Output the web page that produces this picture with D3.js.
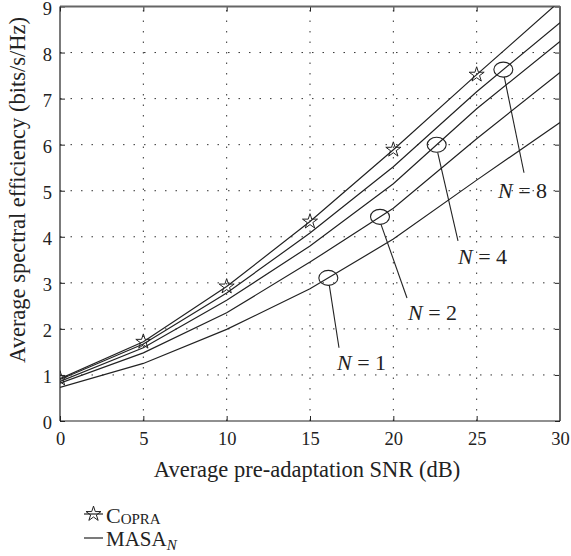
<!DOCTYPE html>
<html>
<head>
<meta charset="utf-8">
<script src="https://cdn.jsdelivr.net/npm/d3@7.9.0/dist/d3.min.js"></script>
<style>
  body { margin: 0; background: #fff; }
  svg { display: block; }
  text { font-family: "Liberation Serif", "Times New Roman", serif; fill: #222; }
</style>
</head>
<body>
<svg id="chart" width="571" height="556"></svg>
<script>
// values
const snr = [0, 5, 10, 15, 20, 25, 30];
const copra = [0.92, 1.72, 2.92, 4.33, 5.89, 7.52, 9.12];
const masa1 = [0.73, 1.25, 1.99, 2.87, 3.95, 5.23, 6.48];
const masa2 = [0.82, 1.48, 2.35, 3.45, 4.62, 6.13, 7.57];
const masa4 = [0.86, 1.59, 2.62, 3.8, 5.15, 6.78, 8.24];
const masa8 = [0.9, 1.67, 2.78, 4.08, 5.52, 7.15, 8.65];
const xTicks = [0, 5, 10, 15, 20, 25, 30];
const yTicks = [0, 1, 2, 3, 4, 5, 6, 7, 8, 9];

const masa = [
  { n: 1, values: masa1 },
  { n: 2, values: masa2 },
  { n: 4, values: masa4 },
  { n: 8, values: masa8 },
];

// ellipse position on each curve (SNR), leader end and label, in data units
const notes = [
  { n: 1, at: 16.1, endX: 16.74, endY: 1.59, textX: 16.62, textY: 1.11 },
  { n: 2, at: 19.2, endX: 20.82, endY: 2.67, textX: 20.88, textY: 2.2 },
  { n: 4, at: 22.6, endX: 23.88, endY: 3.91, textX: 23.88, textY: 3.41 },
  { n: 8, at: 26.6, endX: 27.84, endY: 5.39, textX: 26.28, textY: 4.85 },
];

const pLeft = 60, pRight = 560, pTop = 6.5, pBottom = 421;
const svg = d3.select('#chart');

const x = d3.scaleLinear().domain([0, 30]).range([pLeft, pRight]);
const y = d3.scaleLinear().domain([0, 9]).range([pBottom, pTop]);

svg.append('defs').append('clipPath').attr('id', 'plot')
  .append('rect')
  .attr('x', pLeft).attr('y', pTop)
  .attr('width', pRight - pLeft).attr('height', pBottom - pTop);

// dotted grid
const grid = svg.append('g').attr('stroke', '#333').attr('stroke-width', 1)
  .attr('stroke-dasharray', '1.5,9');
xTicks.slice(1, -1).forEach((t) => {
  grid.append('line').attr('x1', x(t)).attr('x2', x(t)).attr('y1', pBottom).attr('y2', pTop);
});
yTicks.slice(1, -1).forEach((t) => {
  grid.append('line').attr('y1', y(t)).attr('y2', y(t)).attr('x1', pLeft).attr('x2', pRight);
});

// axes with inward ticks
svg.append('g').attr('transform', `translate(0,${pBottom})`)
  .call(d3.axisBottom(x).tickValues(xTicks).tickSize(-5).tickSizeOuter(0).tickPadding(11));
const yAxis = svg.append('g').attr('transform', `translate(${pLeft},0)`)
  .call(d3.axisLeft(y).tickValues(yTicks).tickSize(-5).tickSizeOuter(0).tickPadding(8));
yAxis.selectAll('.tick text').attr('dy', '0.42em');
svg.append('g').attr('transform', `translate(0,${pTop})`)
  .call(d3.axisTop(x).tickValues(xTicks).tickSize(-5).tickSizeOuter(0).tickFormat(''));
svg.append('g').attr('transform', `translate(${pRight},0)`)
  .call(d3.axisRight(y).tickValues(yTicks).tickSize(-5).tickSizeOuter(0).tickFormat(''));
svg.selectAll('.domain').remove();
svg.selectAll('.tick line').attr('stroke', '#222');
svg.selectAll('.tick text')
  .style('font-family', '"Liberation Serif", serif')
  .style('font-size', '18.5px')
  .attr('fill', '#222');

// frame
svg.append('line').attr('x1', pLeft).attr('x2', pRight).attr('y1', pTop).attr('y2', pTop)
  .attr('stroke', '#666').attr('stroke-width', 2);
svg.append('line').attr('x1', pRight).attr('x2', pRight).attr('y1', pTop).attr('y2', pBottom)
  .attr('stroke', '#666').attr('stroke-width', 2);
svg.append('line').attr('x1', pLeft).attr('x2', pLeft).attr('y1', pTop).attr('y2', pBottom)
  .attr('stroke', '#222').attr('stroke-width', 1.2);
svg.append('line').attr('x1', pLeft).attr('x2', pRight).attr('y1', pBottom).attr('y2', pBottom)
  .attr('stroke', '#222').attr('stroke-width', 1.2);

// curves
const line = d3.line().x((d) => x(d[0])).y((d) => y(d[1]));
const plot = svg.append('g').attr('clip-path', 'url(#plot)');

masa.forEach((s) => {
  plot.append('path')
    .attr('d', line(d3.zip(snr, s.values)))
    .attr('fill', 'none').attr('stroke', '#222').attr('stroke-width', 1.2);
});
plot.append('path')
  .attr('d', line(d3.zip(snr, copra)))
  .attr('fill', 'none').attr('stroke', '#222').attr('stroke-width', 1.2);

const star = d3.symbol(d3.symbolStar, 70);
plot.selectAll('.star')
  .data(d3.zip(snr, copra).filter((d) => d[1] <= 9))
  .join('path')
  .attr('class', 'star')
  .attr('d', star)
  .attr('transform', (d) => `translate(${x(d[0])},${y(d[1])})`)
  .attr('fill', 'none').attr('stroke', '#222').attr('stroke-width', 1);

// ellipses, leaders and labels
notes.forEach((nt) => {
  const s = masa.find((m) => m.n === nt.n);
  const onCurve = d3.scaleLinear().domain(snr).range(s.values);
  const cx = x(nt.at), cy = y(onCurve(nt.at));
  svg.append('ellipse')
    .attr('cx', cx).attr('cy', cy).attr('rx', 9.5).attr('ry', 7.5)
    .attr('fill', 'none').attr('stroke', '#222').attr('stroke-width', 1.1);
  svg.append('line')
    .attr('x1', cx + 1).attr('y1', cy + 7.5)
    .attr('x2', x(nt.endX)).attr('y2', y(nt.endY))
    .attr('stroke', '#222').attr('stroke-width', 1.1);
  const t = svg.append('text')
    .attr('x', x(nt.textX)).attr('y', y(nt.textY))
    .style('font-size', '22px');
  t.append('tspan').attr('font-style', 'italic').text('N');
  t.append('tspan').text(` = ${nt.n}`);
});

// axis titles
svg.append('text')
  .attr('x', 307).attr('y', 477)
  .attr('text-anchor', 'middle')
  .style('font-size', '22.5px')
  .text('Average pre-adaptation SNR (dB)');
svg.append('text')
  .attr('transform', 'translate(25,190) rotate(-90)')
  .attr('text-anchor', 'middle')
  .style('font-size', '22.5px')
  .text('Average spectral efficiency (bits/s/Hz)');

// legend
const lg = svg.append('g');
lg.append('line').attr('x1', 84).attr('x2', 103).attr('y1', 514).attr('y2', 514)
  .attr('stroke', '#222').attr('stroke-width', 1.2);
lg.append('path').attr('d', star).attr('transform', 'translate(93.5,514)')
  .attr('fill', 'none').attr('stroke', '#222').attr('stroke-width', 1);
const t1 = lg.append('text').attr('x', 106).attr('y', 523).style('font-size', '22px');
t1.append('tspan').text('C');
t1.append('tspan').style('font-size', '15px').attr('dy', 1).text('OPRA');

lg.append('line').attr('x1', 84).attr('x2', 103).attr('y1', 538).attr('y2', 538)
  .attr('stroke', '#222').attr('stroke-width', 1.2);
const t2 = lg.append('text').attr('x', 106).attr('y', 546).style('font-size', '21px');
t2.append('tspan').text('MASA');
t2.append('tspan').style('font-size', '15px').attr('font-style', 'italic').attr('dy', 4).text('N');
</script>
</body>
</html>
